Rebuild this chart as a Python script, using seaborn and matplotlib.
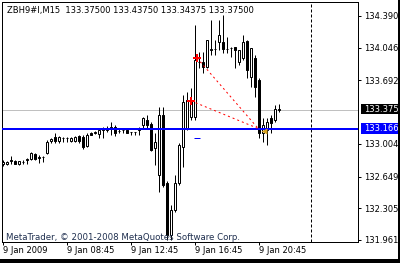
import matplotlib
matplotlib.use("Agg")
import matplotlib.pyplot as plt
from matplotlib.patches import Rectangle
import pandas as pd
import seaborn as sns

# ---------------- data ----------------
bar_index = list(range(70))
open_ = [132.785, 132.785, 132.818, 132.818, 132.785, 132.807, 132.828, 132.839, 132.894, 132.850,
         132.861, 132.904, 133.034, 133.078, 133.034, 133.067, 133.067, 133.034, 133.034, 133.089,
         133.078, 132.980, 133.121, 133.121, 133.110, 133.154, 133.154, 133.175, 133.186, 133.143,
         133.154, 133.154, 133.132, 133.132, 133.154, 133.208, 133.262, 133.219, 132.959, 132.666,
         133.316, 132.579, 132.015, 132.286, 132.579, 132.969, 133.175, 133.295, 133.295, 133.891,
         133.891, 133.837, 134.021, 134.032, 134.108, 134.108, 134.032, 134.043, 134.054, 133.891,
         133.935, 134.119, 133.729, 133.935, 133.696, 133.121, 133.154, 133.284, 133.262, 133.375]
high = [132.828, 132.818, 132.872, 132.828, 132.818, 132.828, 132.850, 132.915, 132.904, 132.883,
        132.872, 133.045, 133.067, 133.121, 133.089, 133.078, 133.078, 133.078, 133.089, 133.100,
        133.100, 133.121, 133.132, 133.143, 133.165, 133.186, 133.197, 133.241, 133.208, 133.165,
        133.175, 133.154, 133.132, 133.132, 133.186, 133.295, 133.316, 133.241, 133.121, 133.403,
        133.403, 132.601, 132.340, 132.666, 133.013, 133.533, 133.566, 133.609, 134.292, 133.999,
        133.999, 134.130, 134.347, 134.130, 134.347, 134.401, 134.162, 134.054, 134.054, 134.021,
        134.184, 134.130, 134.043, 133.967, 133.718, 133.284, 133.284, 133.316, 133.425, 133.4375]
low = [132.763, 132.774, 132.785, 132.785, 132.774, 132.785, 132.785, 132.828, 132.828, 132.796,
       132.807, 132.894, 133.013, 133.013, 133.013, 133.024, 133.024, 133.024, 133.024, 133.013,
       132.948, 132.969, 133.100, 133.110, 133.067, 133.067, 133.132, 133.100, 133.089, 133.121,
       133.121, 133.121, 133.100, 133.100, 133.100, 133.175, 133.175, 132.926, 132.774, 132.481,
       132.536, 131.961, 131.961, 132.265, 132.557, 132.753, 133.154, 133.262, 133.262, 133.826,
       133.772, 133.826, 133.967, 133.967, 134.021, 133.989, 133.989, 133.945, 133.826, 133.859,
       133.913, 133.718, 133.620, 133.512, 133.067, 133.024, 132.991, 133.121, 133.241, 133.34375]
close = [132.807, 132.807, 132.828, 132.785, 132.818, 132.807, 132.839, 132.904, 132.839, 132.861,
         132.861, 133.024, 133.056, 133.034, 133.078, 133.067, 133.067, 133.067, 133.078, 133.034,
         132.969, 133.100, 133.100, 133.132, 133.154, 133.165, 133.165, 133.186, 133.121, 133.143,
         133.154, 133.121, 133.132, 133.132, 133.165, 133.284, 133.208, 132.937, 133.024, 133.316,
         132.557, 132.015, 132.286, 132.579, 132.991, 133.457, 133.479, 133.479, 133.913, 133.891,
         133.837, 134.130, 134.032, 134.032, 134.184, 134.032, 134.032, 134.043, 134.021, 134.021,
         134.108, 133.804, 134.043, 133.620, 133.121, 133.208, 133.241, 133.230, 133.381, 133.375]

price_ticks = [134.390, 134.046, 133.692, 133.004, 132.649, 132.305, 131.961]
price_labels = ["134.390", "134.046", "133.692", "133.004", "132.649", "132.305", "131.961"]
time_ticks = [0, 16, 32, 48, 64]
time_labels = ["9 Jan 2009", "9 Jan 08:45", "9 Jan 12:45", "9 Jan 16:45", "9 Jan 20:45"]

bid_price = 133.375
bid_label = "133.375"
level_price = 133.1666
level_label = "133.166"
separator_index = 77
header_text = "ZBH9#I,M15  133.37500 133.43750 133.34375 133.37500"
copyright_text = "MetaTrader, \u00a9 2001-2008 MetaQuotes Software Corp."

# arrows / trend lines
arrow_x = [48.5, 47.0]
arrow_y = [133.935, 133.470]
line_end_x = 63.8
line_end_y = 133.170
tri_x = [65.3]
tri_y = [133.143]
dash_x = [48.4]
dash_y = [133.070]

# ---------------- drawing ----------------
sns.set_style("white")
plt.rcParams["font.family"] = ["DejaVu Sans"]

W, H = 400, 263
fig = plt.figure(figsize=(W / 100, H / 100), dpi=100)
fig.patch.set_facecolor("white")
ax = fig.add_axes([2 / W, (H - 242) / H, 356 / W, 240 / H])
ax.set_facecolor("white")

df = pd.DataFrame({"i": bar_index, "o": open_, "h": high, "l": low, "c": close})
px = 0.72  # one pixel in points

# wicks
ax.vlines(df["i"], df["l"], df["h"], color="black", lw=px, zorder=3)
# bodies
bull = df["c"] >= df["o"]
bottoms = df[["o", "c"]].min(axis=1)
heights = (df["c"] - df["o"]).abs().clip(lower=0.004)
ax.bar(df["i"][bull], heights[bull], bottom=bottoms[bull], width=0.5,
       color="white", edgecolor="black", lw=px, zorder=4)
ax.bar(df["i"][~bull], heights[~bull], bottom=bottoms[~bull], width=0.5,
       color="black", edgecolor="black", lw=px, zorder=4)

# horizontal lines
ax.axhline(bid_price, color="#C0C0C0", lw=px, zorder=1)
ax.axhline(level_price, color="#0000FF", lw=2 * px, zorder=5)
ax.axvline(separator_index, color="black", lw=px, ls=(0, (3, 2)), zorder=1)

# red dashed trend lines
for ax0, ay0 in zip(arrow_x, arrow_y):
    seg = pd.DataFrame({"x": [ax0, line_end_x], "y": [ay0, line_end_y]})
    sns.lineplot(data=seg, x="x", y="y", ax=ax, color="#FF0000", lw=px,
                 dashes=False, linestyle=(0, (2, 3)), zorder=6, legend=False)

arr = pd.DataFrame({"x": arrow_x, "y": arrow_y})
sns.scatterplot(data=arr, x="x", y="y", ax=ax, marker="P", s=28, color="#FF0000",
                edgecolor="#FF0000", linewidth=0, zorder=7, legend=False)
tri = pd.DataFrame({"x": tri_x, "y": tri_y})
sns.scatterplot(data=tri, x="x", y="y", ax=ax, marker="<", s=18, color="#DAA520",
                edgecolor="#DAA520", linewidth=0, zorder=7, legend=False)
ax.plot(dash_x, dash_y, marker="_", ms=5, mew=px, color="#0000FF", ls="none", zorder=7)

ax.set_xlim(-0.25, 88.75)
ax.set_ylim(131.9393, 134.5418)
ax.set_xlabel("")
ax.set_ylabel("")

for s in ax.spines.values():
    s.set_color("black")
    s.set_linewidth(px)

ax.yaxis.tick_right()
ax.set_yticks(price_ticks)
ax.set_yticklabels(price_labels)
ax.tick_params(axis="y", which="both", direction="out", length=2.2, width=px,
               color="black", pad=2, labelsize=6, labelcolor="black", right=True, left=False)
ax.set_xticks(time_ticks)
ax.set_xticklabels(time_labels, ha="left")
ax.tick_params(axis="x", which="both", direction="out", length=2.2, width=px,
               color="black", pad=1, labelsize=6, labelcolor="black", bottom=True)
for lab in ax.get_xticklabels():
    lab.set_horizontalalignment("left")

# header and copyright
fig.text(7 / W, 1 - 10 / H, header_text, fontsize=6, color="black", va="center", ha="left")
fig.text(6 / W, 1 - 237 / H, copyright_text, fontsize=6.2, color="#1F2F4F", va="center", ha="left")

# price boxes on the axis
fig.patches.append(Rectangle((361 / W, 1 - 114 / H), 37 / W, 10 / H, transform=fig.transFigure,
                             facecolor="black", edgecolor="none", zorder=10))
fig.text(364 / W, 1 - 109 / H, bid_label, fontsize=6, color="white", va="center", ha="left", zorder=11)
fig.patches.append(Rectangle((361 / W, 1 - 134 / H), 37 / W, 11 / H, transform=fig.transFigure,
                             facecolor="#0000FF", edgecolor="none", zorder=10))
fig.text(364 / W, 1 - 128.5 / H, level_label, fontsize=6, color="white", va="center", ha="left", zorder=11)

# window edges
fig.patches.append(Rectangle((0, 0), 1, 4 / H, transform=fig.transFigure,
                             facecolor="black", edgecolor="none", zorder=12))
fig.patches.append(Rectangle((398 / W, 0), 2 / W, 1, transform=fig.transFigure,
                             facecolor="black", edgecolor="none", zorder=12))

fig.savefig("out.png", dpi=100, facecolor="white")
